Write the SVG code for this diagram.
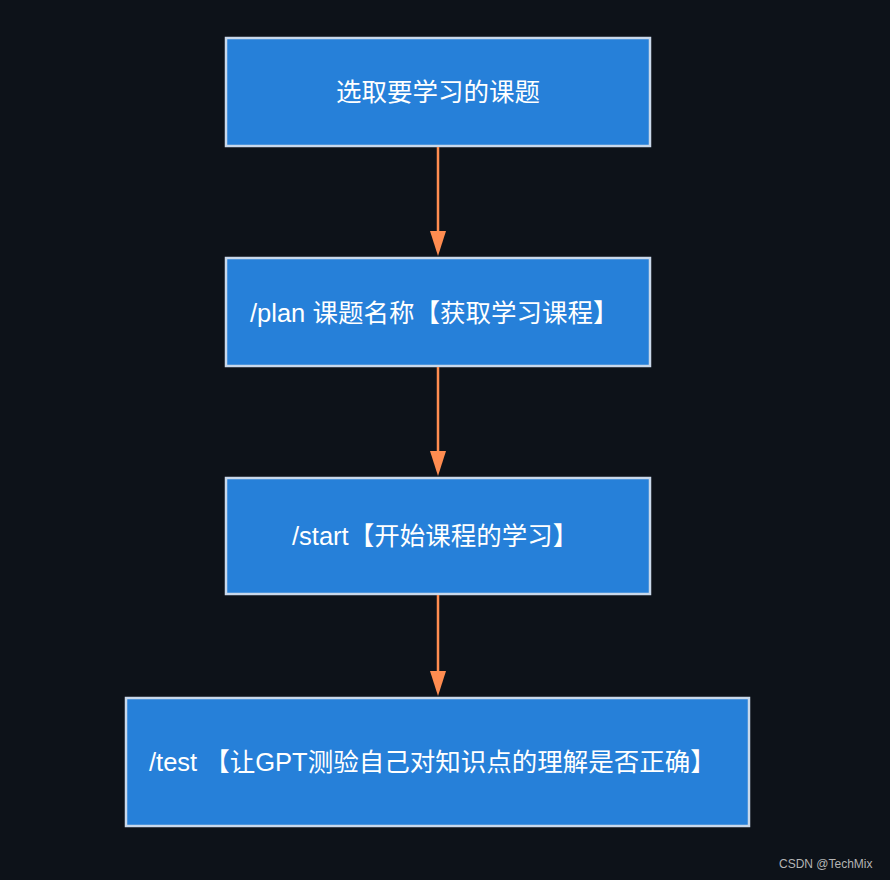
<svg xmlns="http://www.w3.org/2000/svg" width="890" height="880" viewBox="0 0 890 880">
<style>
.box{fill:#2680d9;stroke:#c9d8ea;stroke-width:2.5}
.lbl{fill:#ffffff;font-family:"Liberation Sans","Noto Sans CJK SC",sans-serif;font-size:25.5px}
.edge{stroke:#ff8c50;stroke-width:2.5;fill:none}
.head{fill:#ff8c50}
</style>
<rect x="0" y="0" width="890" height="880" fill="#0d1219"/>
<g id="n1"><rect class="box" x="226" y="38" width="424" height="108"/><text class="lbl" x="438" y="101" text-anchor="middle">选取要学习的课题</text></g>
<g id="n2"><rect class="box" x="226" y="258" width="424" height="108"/><text class="lbl" x="250" y="322">/plan 课题名称【获取学习课程】</text></g>
<g id="n3"><rect class="box" x="226" y="478" width="424" height="116"/><text class="lbl" x="292" y="545">/start【开始课程的学习】</text></g>
<g id="n4"><rect class="box" x="126" y="698" width="623" height="128"/><text class="lbl" x="149" y="771">/test 【让GPT测验自己对知识点的理解是否正确】</text></g>
<g id="edges">
<line class="edge" x1="438" y1="147" x2="438" y2="234"/><polygon class="head" points="430,231 446,231 438,256"/>
<line class="edge" x1="438" y1="367" x2="438" y2="454"/><polygon class="head" points="430,451 446,451 438,476"/>
<line class="edge" x1="438" y1="595" x2="438" y2="674"/><polygon class="head" points="430,671 446,671 438,696"/>
</g>
<text x="779" y="868" fill="#b4b4b4" font-family="Liberation Sans, sans-serif" font-size="12">CSDN @TechMix</text>
</svg>
